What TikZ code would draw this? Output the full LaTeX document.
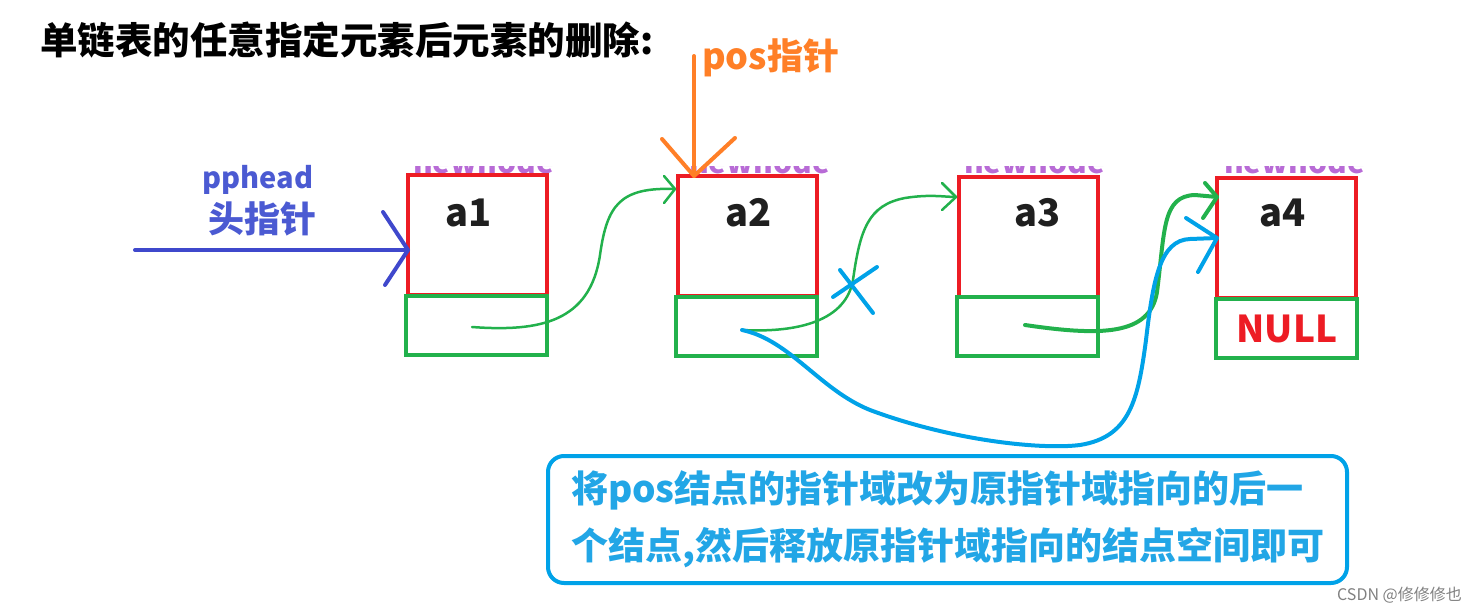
\documentclass[tikz,border=0pt]{standalone}
\usepackage{fontspec}
\setmainfont{Noto Sans CJK SC}
\definecolor{cred}{HTML}{ED1C24}
\definecolor{cgreen}{HTML}{22B14C}
\definecolor{cblue}{HTML}{00A2E8}
\definecolor{cnote}{HTML}{22A6E6}
\definecolor{cind}{HTML}{3F48CC}
\definecolor{cindt}{HTML}{4B5AD2}
\definecolor{corange}{HTML}{FF7F27}
\definecolor{cpurple}{HTML}{B86BD6}
\begin{document}
\begin{tikzpicture}[x=1pt,y=-1pt,
  datbox/.style={draw=cred, line width=4pt, minimum width=139pt, minimum height=120pt, inner sep=0pt},
  ptrbox/.style={draw=cgreen, line width=4pt, minimum width=141pt, minimum height=59pt, inner sep=0pt},
  lbl/.style={font=\bfseries\fontsize{38}{40}\selectfont, text=black!88, inner sep=0pt},
  ghost/.style={font=\bfseries\fontsize{30}{32}\selectfont, text=cpurple, inner sep=0pt, anchor=base west},
  link/.style={draw=cgreen, line width=2.5pt, line cap=round, line join=round},
  newlink/.style={draw=cblue, line width=4pt, line cap=round, line join=round},
  ptrarrow/.style={line width=4pt, line cap=round, line join=round}]
\useasboundingbox (0,0) rectangle (1478,613);

% title
\node[anchor=west, inner sep=0pt, font=\bfseries\fontsize{37.5}{40}\selectfont] (title) at (40,40) {单链表的任意指定元素后元素的删除:};

% ghost "newnode" text partly hidden
\begin{scope}
  \clip (400,166) rectangle (560,176) (680,166) rectangle (830,176) (955,166) rectangle (1110,176) (1215,166) rectangle (1370,176);
  \node[ghost] (gh1) at (413,173) {newnode};
  \node[ghost] (gh2) at (689,173) {newnode};
  \node[ghost] (gh3) at (964,173) {newnode};
  \node[ghost] (gh4) at (1224,173) {newnode};
\end{scope}

% data boxes
\node[datbox] (d1) at (477.5,235) {};
\node[datbox] (d2) at (747,236) {};
\node[datbox] (d3) at (1028.5,236.5) {};
\node[datbox] (d4) at (1286.5,238) {};
% pointer boxes
\node[ptrbox] (p1) at (476.5,325) {};
\node[ptrbox] (p2) at (746.5,326.5) {};
\node[ptrbox] (p3) at (1027.5,326.5) {};
\node[ptrbox] (p4) at (1286.5,328) {};

\node[lbl] (t1) at (469,213) {a1};
\node[lbl] (t2) at (749,213) {a2};
\node[lbl] (t3) at (1038,213) {a3};
\node[lbl] (t4) at (1283,213) {a4};
\node[font=\bfseries\fontsize{37}{40}\selectfont, text=cred, inner sep=0pt] (null) at (1287,329) {NULL};

% head pointer
\node[font=\bfseries\fontsize{29}{32}\selectfont, text=cindt, inner sep=0pt] (pph) at (258,180) {pphead};
\node[font=\bfseries\fontsize{36}{40}\selectfont, text=cindt, inner sep=0pt] (hp) at (262,219) {头指针};
\coordinate (hs) at (135,250);
\coordinate (ht) at (408,250);
\draw[ptrarrow, cind] (hs) -- (ht);
\draw[ptrarrow, cind] (383,212) -- (ht) -- (385,285);

% pos pointer
\node[font=\bfseries\fontsize{36}{40}\selectfont, text=corange, inner sep=0pt, anchor=west] (pos) at (702,58) {pos指针};
\coordinate (ps) at (694,56);
\coordinate (pt) at (694,176);
\draw[ptrarrow, corange] (ps) -- (pt);
\draw[ptrarrow, corange] (662,139) -- (pt) -- (735,138);

% green link a1 -> a2
\coordinate (s1) at (472,327);
\coordinate (e1) at (675,189);
\draw[link] (s1) .. controls (540,332) and (590,322) .. (600,255) .. controls (607,205) and (620,187) .. (e1);
\draw[link] (664,176) -- (e1) -- (664,203);

% green link a2 -> a3 (old)
\coordinate (s2) at (742,330);
\coordinate (e2) at (956,197);
\draw[link] (s2) .. controls (800,333) and (846,320) .. (853,280) .. controls (860,230) and (868,205) .. (905,198) .. controls (930,194) and (945,197) .. (e2);
\draw[link] (942,183) -- (e2) -- (942,210);

% blue cross over old link
\draw[newlink] (833,297) -- (877,267);
\draw[newlink] (840,270) -- (873,313);

% green link a3 -> a4
\coordinate (s3) at (1025,325);
\coordinate (e3) at (1217,197);
\draw[link, line width=4pt] (s3) .. controls (1100,336) and (1150,336) .. (1157,292) .. controls (1165,230) and (1162,196) .. (1195,195) -- (e3);
\draw[link, line width=4pt] (1205,183) -- (e3) -- (1203,218);

% new blue link a2 -> a4
\coordinate (s4) at (742,330);
\coordinate (e4) at (1217,238);
\draw[newlink] (s4) .. controls (790,340) and (820,390) .. (870,410) .. controls (950,440) and (1040,450) .. (1080,445) .. controls (1130,437) and (1138,400) .. (1146,340) .. controls (1153,280) and (1160,240) .. (1190,239) -- (e4);
\draw[newlink] (1186,218) -- (e4) -- (1198,272);

% note box
\node[draw=cblue, line width=4pt, rounded corners=16pt, minimum width=799pt, minimum height=127pt, inner sep=0pt,
      text=cnote, align=left, font=\bfseries\fontsize{37}{57}\selectfont] (note) at (947.5,519.5)
  {将pos结点的指针域改为原指针域指向的后一\\个结点,然后释放原指针域指向的结点空间即可};

% watermark
\node[anchor=east, inner sep=0pt, text=black!50, font=\fontsize{16}{18}\selectfont] (wm) at (1462,595) {CSDN @修修修也};
\end{tikzpicture}
\end{document}
